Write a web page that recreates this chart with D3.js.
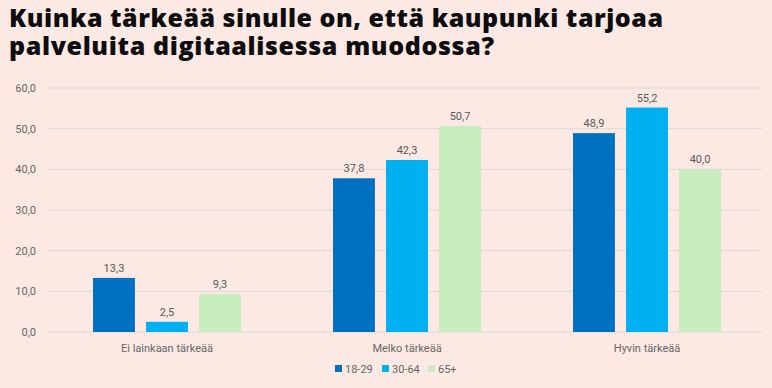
<!DOCTYPE html>
<html>
<head>
<meta charset="utf-8">
<script src="https://cdn.jsdelivr.net/npm/d3@7"></script>
<style>
  body { margin: 0; background: #fde9e4; }
  svg { display: block; }
</style>
</head>
<body>
<svg id="chart" width="772" height="388"></svg>
<script>
const categories = ['Ei lainkaan tärkeää', 'Melko tärkeää', 'Hyvin tärkeää'];
const series = ['18-29', '30-64', '65+'];
const values1829 = [13.3, 37.8, 48.9];
const values3064 = [2.5, 42.3, 55.2];
const values65 = [9.3, 50.7, 40.0];
const yTicks = [0, 10, 20, 30, 40, 50, 60];
const titleLines = ['Kuinka tärkeää sinulle on, että kaupunki tarjoaa', 'palveluita digitaalisessa muodossa?'];
const colors = ['#0070c0', '#00b0f0', '#c8eebf'];

const data = categories.map((c, i) => ({
  name: c,
  values: [values1829[i], values3064[i], values65[i]]
}));

const svg = d3.select('#chart');
svg.selectAll('*').remove();

const margin = { top: 88, right: 5, bottom: 56, left: 47 };
const width = 772 - margin.left - margin.right;
const height = 388 - margin.top - margin.bottom;

const fmt = v => d3.format('.1f')(v).replace('.', ',');

// Title (one text, two lines)
const titleWidths = [654, 485];
svg.append('text')
  .attr('font-family', 'Open Sans')
  .attr('font-weight', 800)
  .attr('font-size', '25px')
  .attr('fill', '#0d0d0d')
  .selectAll('tspan')
  .data(titleLines)
  .join('tspan')
  .attr('x', 9)
  .attr('y', (d, i) => 27 + i * 28)
  .attr('textLength', (d, i) => titleWidths[i])
  .attr('lengthAdjust', 'spacing')
  .text(d => d);

const g = svg.append('g')
  .attr('transform', `translate(${margin.left},${margin.top})`);

const x0 = d3.scaleBand()
  .domain(categories)
  .range([0, 720]);

const x1 = d3.scaleBand()
  .domain(series)
  .range([-74, 74])
  .paddingInner(0.21);

const y = d3.scaleLinear()
  .domain([0, 60])
  .range([height, 0]);

// Grid
g.append('g')
  .selectAll('line')
  .data(yTicks)
  .join('line')
  .attr('x1', 0)
  .attr('x2', 715)
  .attr('y1', d => y(d))
  .attr('y2', d => y(d))
  .attr('stroke', '#d9d9d9')
  .attr('stroke-width', 1);

// Y axis
g.append('g')
  .call(d3.axisLeft(y).tickValues(yTicks).tickSize(0).tickPadding(11).tickFormat(fmt))
  .call(s => s.select('.domain').remove())
  .call(s => s.selectAll('text')
    .attr('font-family', 'Roboto')
    .attr('font-size', '11px')
    .attr('fill', '#666'));

// Bars
const groups = g.append('g')
  .selectAll('g')
  .data(data)
  .join('g')
  .attr('transform', d => `translate(${x0(d.name) + x0.bandwidth() / 2},0)`);

groups.selectAll('rect')
  .data(d => d.values.map((v, i) => ({ key: series[i], value: v, i })))
  .join('rect')
  .attr('x', d => x1(d.key))
  .attr('y', d => y(d.value))
  .attr('width', x1.bandwidth())
  .attr('height', d => height - y(d.value))
  .attr('fill', d => colors[d.i]);

groups.selectAll('text')
  .data(d => d.values.map((v, i) => ({ key: series[i], value: v })))
  .join('text')
  .attr('x', d => x1(d.key) + x1.bandwidth() / 2)
  .attr('y', d => y(d.value) - 6)
  .attr('text-anchor', 'middle')
  .attr('font-family', 'Roboto')
  .attr('font-size', '11px')
  .attr('fill', '#595959')
  .text(d => fmt(d.value));

// X axis labels
g.append('g')
  .attr('transform', `translate(0,${height})`)
  .call(d3.axisBottom(x0).tickSize(0).tickPadding(12))
  .call(s => s.select('.domain').remove())
  .call(s => s.selectAll('text')
    .attr('font-family', 'Roboto')
    .attr('font-size', '11px')
    .attr('fill', '#666'));

// Legend
const legend = svg.append('g')
  .attr('transform', 'translate(335,369)');

const legendX = [0, 47, 93];
const items = legend.selectAll('g')
  .data(series)
  .join('g')
  .attr('transform', (d, i) => `translate(${legendX[i]},0)`);

items.append('rect')
  .attr('x', 0)
  .attr('y', -4)
  .attr('width', 7)
  .attr('height', 7)
  .attr('fill', (d, i) => colors[i]);

items.append('text')
  .attr('x', 10)
  .attr('y', 4)
  .attr('font-family', 'Roboto')
  .attr('font-size', '11px')
  .attr('fill', '#666')
  .text(d => d);
</script>
</body>
</html>
